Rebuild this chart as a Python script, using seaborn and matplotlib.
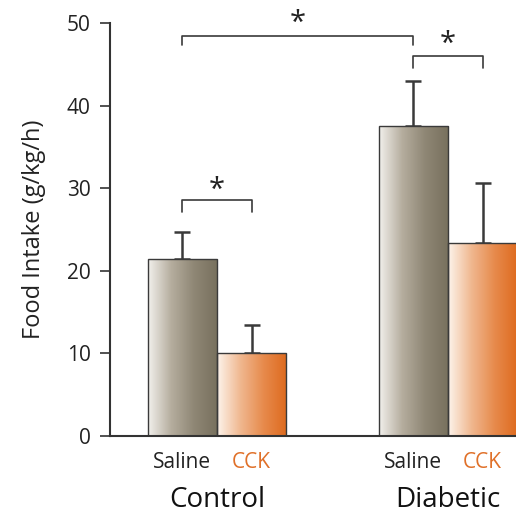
import numpy as np
import pandas as pd
import seaborn as sns
import matplotlib.pyplot as plt
from matplotlib.colors import LinearSegmentedColormap

# data
groups = ["Control", "Control", "Diabetic", "Diabetic"]
treatments = ["Saline", "CCK", "Saline", "CCK"]
intake = [21.4, 10.0, 37.5, 23.4]
sem = [3.3, 3.4, 5.5, 7.2]

# significance brackets: pairs, bar level, drop level, star level
sig_pairs = [("Control", "Saline", "Diabetic", "Saline"),
             ("Control", "Saline", "Control", "CCK"),
             ("Diabetic", "Saline", "Diabetic", "CCK")]
sig_level = [48.4, 28.6, 46.0]
sig_drop = [47.4, 27.1, 44.6]
sig_star = [50.0, 29.7, 47.4]

df = pd.DataFrame({"group": groups, "treatment": treatments, "intake": intake, "err": sem})

sns.set_style("ticks")
plt.rcParams['font.family'] = ['Open Sans', 'DejaVu Sans']

fig = plt.figure(figsize=(5.16, 5.16), dpi=100)
ax = fig.add_axes([0.213, 0.155, 0.787, 0.8])

sns.barplot(data=df, x="group", y="intake", hue="treatment", hue_order=["Saline", "CCK"],
            width=0.6, errorbar=None, edgecolor="#3a3a3a", linewidth=1.0, legend=False,
            palette={"Saline": "#a59c8a", "CCK": "#e9a06c"}, ax=ax)

cmaps = {
    "Saline": LinearSegmentedColormap.from_list("sal", ["#f2f0ec", "#b5ad9e", "#8e8674", "#77705d"]),
    "CCK": LinearSegmentedColormap.from_list("cck", ["#fdf4ec", "#f0b890", "#e78a4c", "#de6a1e"]),
}
txt_col = {"Saline": "#222222", "CCK": "#e0712a"}

centers = {}
hue_levels = ["Saline", "CCK"]
cats = ["Control", "Diabetic"]
grad = np.linspace(0, 1, 256).reshape(1, -1)
bar_conts = list(ax.containers)
for hi, cont in enumerate(bar_conts):
    tr = hue_levels[hi]
    for ci, bar in enumerate(cont):
        g = cats[ci]
        x0, w, h = bar.get_x(), bar.get_width(), bar.get_height()
        im = ax.imshow(grad, cmap=cmaps[tr], aspect="auto", extent=[x0, x0 + w, 0, h], zorder=1.5)
        im.set_clip_path(bar)
        bar.set_facecolor("none")
        bar.set_zorder(2)
        xc = x0 + w / 2
        centers[(g, tr)] = xc
        row = df[(df.group == g) & (df.treatment == tr)].iloc[0]
        ax.errorbar(xc, row["intake"], yerr=[[0], [row["err"]]], color="#3a3a3a",
                    elinewidth=1.8, capsize=6, capthick=1.8, zorder=1)
        ax.annotate(tr, xy=(xc, 0), xycoords=("data", "axes fraction"), xytext=(0, -26),
                    textcoords="offset pixels", ha="center", va="center", fontsize=15,
                    color=txt_col[tr], annotation_clip=False)

for (ga, ta, gb, tb), lv, dr, st in zip(sig_pairs, sig_level, sig_drop, sig_star):
    xa, xb = centers[(ga, ta)], centers[(gb, tb)]
    ax.plot([xa, xa, xb, xb], [dr, lv, lv, dr], color="#3a3a3a", lw=1.2, clip_on=False)
    ax.text((xa + xb) / 2, st, "*", ha="center", va="center", fontsize=21, color="#222222", clip_on=False)

ax.set_ylim(0, 50)
ax.set_xlim(-0.463, 1.294)
ax.set_yticks([0, 10, 20, 30, 40, 50])
ax.set_ylabel("Food Intake (g/kg/h)", fontsize=17, color="#222222", labelpad=15)
ax.set_xlabel("")
ax.set_xticks([0, 1])
ax.set_xticklabels(["Control", "Diabetic"], fontsize=20, color="#111111")
ax.tick_params(axis="x", length=0, pad=36)
ax.tick_params(axis="y", length=7, width=1.2, color="#333333", labelsize=15, labelcolor="#222222", pad=7)
for s in ["top", "right"]:
    ax.spines[s].set_visible(False)
for s in ["left", "bottom"]:
    ax.spines[s].set_linewidth(1.5)
    ax.spines[s].set_color("#333333")

fig.savefig("out.png", dpi=100)
